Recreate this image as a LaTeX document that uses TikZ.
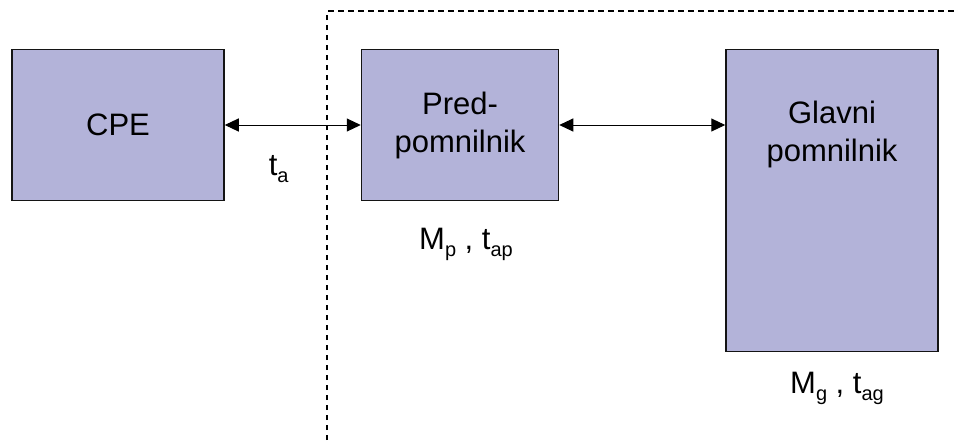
\documentclass[tikz,border=0pt]{standalone}
\usepackage{fontspec}
\setmainfont{Liberation Sans}
\usepackage{tikz}
\usetikzlibrary{arrows.meta,positioning}
\definecolor{memfill}{RGB}{179,179,217}
\definecolor{memedge}{RGB}{20,20,20}
\newcommand{\lo}[1]{\raisebox{-7pt}{\fontsize{20}{20}\selectfont #1}}
\tikzset{
  membox/.style={
    draw=memedge, fill=memfill, line width=1.5pt,
    align=center, inner sep=0pt, font=\fontsize{31}{38}\selectfont
  },
  lbl/.style={font=\fontsize{31}{38}\selectfont, inner sep=0pt},
  arr/.style={{Triangle[length=14pt,width=13pt]}-{Triangle[length=14pt,width=13pt]}, line width=1pt},
  bound/.style={draw=black, line width=1.1pt, dash pattern=on 5.5pt off 4.5pt}
}

\begin{document}
\begin{tikzpicture}[x=1pt, y=-1pt]
  \useasboundingbox (0,0) rectangle (958,440);
  \node[membox, minimum width=212pt, minimum height=151pt] (cpe) at (118,125) {CPE};
  \node[membox, minimum width=197pt, minimum height=151pt, right=136pt of cpe] (pred) {Pred-\\pomnilnik};
  \node[membox, minimum width=212pt, minimum height=302pt, anchor=north west]
    (glavni) at ([xshift=166pt]pred.north east) {};
  \node[lbl, align=center, below=52pt of glavni.north] (gtxt) {Glavni\\pomnilnik};
  \draw[arr] (cpe) -- (pred)
    node[lbl, midway, anchor=base, xshift=-14pt, yshift=-50pt] (ta) {t\lo{a}};
  \draw[arr] (pred) -- (glavni.west |- pred.east);
  \node[lbl, anchor=base] (mp) at ([xshift=6pt,yshift=-48pt]pred.south) {M\lo{p} , t\lo{ap}};
  \node[lbl, anchor=base] (mg) at ([xshift=5pt,yshift=-41pt]glavni.south) {M\lo{g} , t\lo{ag}};
  % cache boundary
  \coordinate (db) at (327,440);
  \coordinate (dc) at (327,11);
  \coordinate (dr) at (958,11);
  \draw[bound] (db) -- (dc) -- (dr);
\end{tikzpicture}
\end{document}
